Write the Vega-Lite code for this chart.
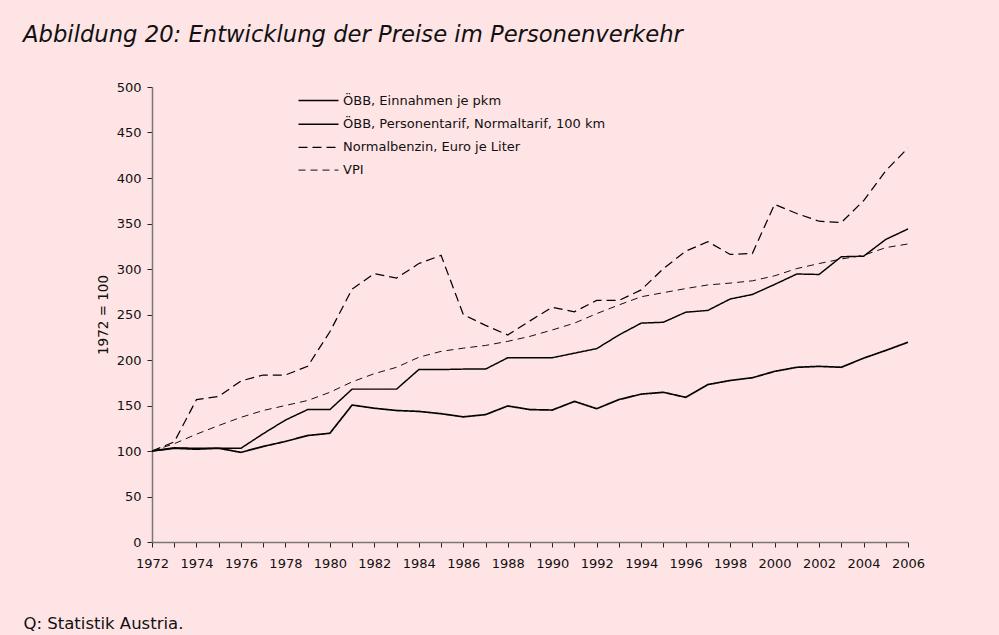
{
  "$schema": "https://vega.github.io/schema/vega-lite/v6.json",
  "autosize": {"type": "none"},
  "width": 756,
  "height": 455,
  "padding": {"left": 152, "top": 87, "right": 91, "bottom": 93},
  "background": "#FFE4E6",
  "config": {
    "view": {"stroke": null},
    "font": "DejaVu Sans",
    "axis": {"labelColor": "#111", "titleColor": "#111", "tickColor": "#222", "domainColor": "#777", "domainWidth": 1.5, "grid": false, "labelFontSize": 13, "titleFontWeight": "normal", "tickSize": 5},
    "legend": {"orient": "none", "legendX": 152, "legendY": -1, "labelFontSize": 13, "labelColor": "#111", "labelLimit": 500, "symbolSize": 711, "symbolType": "M-1.5,0H1.5", "labelOffset": 10, "rowPadding": 1.7}
  },
  "title": {
    "text": "Abbildung 20: Entwicklung der Preise im Personenverkehr",
    "anchor": "start",
    "frame": "group",
    "dx": -129,
    "offset": 34,
    "fontSize": 22.7,
    "font": "DejaVu Sans",
    "fontStyle": "italic",
    "fontWeight": "normal",
    "color": "#111"
  },
  "data": {
    "values": [
      {"Jahr": 1972, "Reihe": "ÖBB, Einnahmen je pkm", "Wert": 100},
      {"Jahr": 1973, "Reihe": "ÖBB, Einnahmen je pkm", "Wert": 103},
      {"Jahr": 1974, "Reihe": "ÖBB, Einnahmen je pkm", "Wert": 102},
      {"Jahr": 1975, "Reihe": "ÖBB, Einnahmen je pkm", "Wert": 103},
      {"Jahr": 1976, "Reihe": "ÖBB, Einnahmen je pkm", "Wert": 98.5},
      {"Jahr": 1977, "Reihe": "ÖBB, Einnahmen je pkm", "Wert": 105},
      {"Jahr": 1978, "Reihe": "ÖBB, Einnahmen je pkm", "Wert": 110.5},
      {"Jahr": 1979, "Reihe": "ÖBB, Einnahmen je pkm", "Wert": 117},
      {"Jahr": 1980, "Reihe": "ÖBB, Einnahmen je pkm", "Wert": 119.5},
      {"Jahr": 1981, "Reihe": "ÖBB, Einnahmen je pkm", "Wert": 150.5},
      {"Jahr": 1982, "Reihe": "ÖBB, Einnahmen je pkm", "Wert": 147},
      {"Jahr": 1983, "Reihe": "ÖBB, Einnahmen je pkm", "Wert": 144.5},
      {"Jahr": 1984, "Reihe": "ÖBB, Einnahmen je pkm", "Wert": 143.5},
      {"Jahr": 1985, "Reihe": "ÖBB, Einnahmen je pkm", "Wert": 141},
      {"Jahr": 1986, "Reihe": "ÖBB, Einnahmen je pkm", "Wert": 137.5},
      {"Jahr": 1987, "Reihe": "ÖBB, Einnahmen je pkm", "Wert": 140},
      {"Jahr": 1988, "Reihe": "ÖBB, Einnahmen je pkm", "Wert": 149.5},
      {"Jahr": 1989, "Reihe": "ÖBB, Einnahmen je pkm", "Wert": 145.5},
      {"Jahr": 1990, "Reihe": "ÖBB, Einnahmen je pkm", "Wert": 145},
      {"Jahr": 1991, "Reihe": "ÖBB, Einnahmen je pkm", "Wert": 154.5},
      {"Jahr": 1992, "Reihe": "ÖBB, Einnahmen je pkm", "Wert": 146.5},
      {"Jahr": 1993, "Reihe": "ÖBB, Einnahmen je pkm", "Wert": 156.5},
      {"Jahr": 1994, "Reihe": "ÖBB, Einnahmen je pkm", "Wert": 162.5},
      {"Jahr": 1995, "Reihe": "ÖBB, Einnahmen je pkm", "Wert": 164.5},
      {"Jahr": 1996, "Reihe": "ÖBB, Einnahmen je pkm", "Wert": 159},
      {"Jahr": 1997, "Reihe": "ÖBB, Einnahmen je pkm", "Wert": 173},
      {"Jahr": 1998, "Reihe": "ÖBB, Einnahmen je pkm", "Wert": 177.5},
      {"Jahr": 1999, "Reihe": "ÖBB, Einnahmen je pkm", "Wert": 180.5},
      {"Jahr": 2000, "Reihe": "ÖBB, Einnahmen je pkm", "Wert": 187.5},
      {"Jahr": 2001, "Reihe": "ÖBB, Einnahmen je pkm", "Wert": 192},
      {"Jahr": 2002, "Reihe": "ÖBB, Einnahmen je pkm", "Wert": 193},
      {"Jahr": 2003, "Reihe": "ÖBB, Einnahmen je pkm", "Wert": 192},
      {"Jahr": 2004, "Reihe": "ÖBB, Einnahmen je pkm", "Wert": 202},
      {"Jahr": 2005, "Reihe": "ÖBB, Einnahmen je pkm", "Wert": 210.5},
      {"Jahr": 2006, "Reihe": "ÖBB, Einnahmen je pkm", "Wert": 219.5},
      {"Jahr": 1972, "Reihe": "ÖBB, Personentarif, Normaltarif, 100 km", "Wert": 100},
      {"Jahr": 1973, "Reihe": "ÖBB, Personentarif, Normaltarif, 100 km", "Wert": 103.5},
      {"Jahr": 1974, "Reihe": "ÖBB, Personentarif, Normaltarif, 100 km", "Wert": 103},
      {"Jahr": 1975, "Reihe": "ÖBB, Personentarif, Normaltarif, 100 km", "Wert": 103},
      {"Jahr": 1976, "Reihe": "ÖBB, Personentarif, Normaltarif, 100 km", "Wert": 103},
      {"Jahr": 1977, "Reihe": "ÖBB, Personentarif, Normaltarif, 100 km", "Wert": 119},
      {"Jahr": 1978, "Reihe": "ÖBB, Personentarif, Normaltarif, 100 km", "Wert": 134},
      {"Jahr": 1979, "Reihe": "ÖBB, Personentarif, Normaltarif, 100 km", "Wert": 145.5},
      {"Jahr": 1980, "Reihe": "ÖBB, Personentarif, Normaltarif, 100 km", "Wert": 145.5},
      {"Jahr": 1981, "Reihe": "ÖBB, Personentarif, Normaltarif, 100 km", "Wert": 168},
      {"Jahr": 1982, "Reihe": "ÖBB, Personentarif, Normaltarif, 100 km", "Wert": 168},
      {"Jahr": 1983, "Reihe": "ÖBB, Personentarif, Normaltarif, 100 km", "Wert": 168},
      {"Jahr": 1984, "Reihe": "ÖBB, Personentarif, Normaltarif, 100 km", "Wert": 189.5},
      {"Jahr": 1985, "Reihe": "ÖBB, Personentarif, Normaltarif, 100 km", "Wert": 189.5},
      {"Jahr": 1986, "Reihe": "ÖBB, Personentarif, Normaltarif, 100 km", "Wert": 190},
      {"Jahr": 1987, "Reihe": "ÖBB, Personentarif, Normaltarif, 100 km", "Wert": 190},
      {"Jahr": 1988, "Reihe": "ÖBB, Personentarif, Normaltarif, 100 km", "Wert": 202.5},
      {"Jahr": 1989, "Reihe": "ÖBB, Personentarif, Normaltarif, 100 km", "Wert": 202.5},
      {"Jahr": 1990, "Reihe": "ÖBB, Personentarif, Normaltarif, 100 km", "Wert": 202.5},
      {"Jahr": 1991, "Reihe": "ÖBB, Personentarif, Normaltarif, 100 km", "Wert": 207.5},
      {"Jahr": 1992, "Reihe": "ÖBB, Personentarif, Normaltarif, 100 km", "Wert": 212.5},
      {"Jahr": 1993, "Reihe": "ÖBB, Personentarif, Normaltarif, 100 km", "Wert": 227.5},
      {"Jahr": 1994, "Reihe": "ÖBB, Personentarif, Normaltarif, 100 km", "Wert": 240.5},
      {"Jahr": 1995, "Reihe": "ÖBB, Personentarif, Normaltarif, 100 km", "Wert": 241.5},
      {"Jahr": 1996, "Reihe": "ÖBB, Personentarif, Normaltarif, 100 km", "Wert": 252.5},
      {"Jahr": 1997, "Reihe": "ÖBB, Personentarif, Normaltarif, 100 km", "Wert": 254.5},
      {"Jahr": 1998, "Reihe": "ÖBB, Personentarif, Normaltarif, 100 km", "Wert": 267},
      {"Jahr": 1999, "Reihe": "ÖBB, Personentarif, Normaltarif, 100 km", "Wert": 272},
      {"Jahr": 2000, "Reihe": "ÖBB, Personentarif, Normaltarif, 100 km", "Wert": 283},
      {"Jahr": 2001, "Reihe": "ÖBB, Personentarif, Normaltarif, 100 km", "Wert": 294.5},
      {"Jahr": 2002, "Reihe": "ÖBB, Personentarif, Normaltarif, 100 km", "Wert": 294},
      {"Jahr": 2003, "Reihe": "ÖBB, Personentarif, Normaltarif, 100 km", "Wert": 313.5},
      {"Jahr": 2004, "Reihe": "ÖBB, Personentarif, Normaltarif, 100 km", "Wert": 314},
      {"Jahr": 2005, "Reihe": "ÖBB, Personentarif, Normaltarif, 100 km", "Wert": 332.5},
      {"Jahr": 2006, "Reihe": "ÖBB, Personentarif, Normaltarif, 100 km", "Wert": 344},
      {"Jahr": 1972, "Reihe": "Normalbenzin, Euro je Liter", "Wert": 100},
      {"Jahr": 1973, "Reihe": "Normalbenzin, Euro je Liter", "Wert": 110},
      {"Jahr": 1974, "Reihe": "Normalbenzin, Euro je Liter", "Wert": 156.5},
      {"Jahr": 1975, "Reihe": "Normalbenzin, Euro je Liter", "Wert": 160},
      {"Jahr": 1976, "Reihe": "Normalbenzin, Euro je Liter", "Wert": 177},
      {"Jahr": 1977, "Reihe": "Normalbenzin, Euro je Liter", "Wert": 183.5},
      {"Jahr": 1978, "Reihe": "Normalbenzin, Euro je Liter", "Wert": 183.5},
      {"Jahr": 1979, "Reihe": "Normalbenzin, Euro je Liter", "Wert": 193},
      {"Jahr": 1980, "Reihe": "Normalbenzin, Euro je Liter", "Wert": 231},
      {"Jahr": 1981, "Reihe": "Normalbenzin, Euro je Liter", "Wert": 278},
      {"Jahr": 1982, "Reihe": "Normalbenzin, Euro je Liter", "Wert": 295},
      {"Jahr": 1983, "Reihe": "Normalbenzin, Euro je Liter", "Wert": 290},
      {"Jahr": 1984, "Reihe": "Normalbenzin, Euro je Liter", "Wert": 306},
      {"Jahr": 1985, "Reihe": "Normalbenzin, Euro je Liter", "Wert": 315},
      {"Jahr": 1986, "Reihe": "Normalbenzin, Euro je Liter", "Wert": 250},
      {"Jahr": 1987, "Reihe": "Normalbenzin, Euro je Liter", "Wert": 238},
      {"Jahr": 1988, "Reihe": "Normalbenzin, Euro je Liter", "Wert": 227.5},
      {"Jahr": 1989, "Reihe": "Normalbenzin, Euro je Liter", "Wert": 243},
      {"Jahr": 1990, "Reihe": "Normalbenzin, Euro je Liter", "Wert": 258},
      {"Jahr": 1991, "Reihe": "Normalbenzin, Euro je Liter", "Wert": 253},
      {"Jahr": 1992, "Reihe": "Normalbenzin, Euro je Liter", "Wert": 265.5},
      {"Jahr": 1993, "Reihe": "Normalbenzin, Euro je Liter", "Wert": 265.5},
      {"Jahr": 1994, "Reihe": "Normalbenzin, Euro je Liter", "Wert": 277},
      {"Jahr": 1995, "Reihe": "Normalbenzin, Euro je Liter", "Wert": 300.5},
      {"Jahr": 1996, "Reihe": "Normalbenzin, Euro je Liter", "Wert": 319.5},
      {"Jahr": 1997, "Reihe": "Normalbenzin, Euro je Liter", "Wert": 330},
      {"Jahr": 1998, "Reihe": "Normalbenzin, Euro je Liter", "Wert": 316},
      {"Jahr": 1999, "Reihe": "Normalbenzin, Euro je Liter", "Wert": 317},
      {"Jahr": 2000, "Reihe": "Normalbenzin, Euro je Liter", "Wert": 371},
      {"Jahr": 2001, "Reihe": "Normalbenzin, Euro je Liter", "Wert": 361},
      {"Jahr": 2002, "Reihe": "Normalbenzin, Euro je Liter", "Wert": 352.5},
      {"Jahr": 2003, "Reihe": "Normalbenzin, Euro je Liter", "Wert": 351},
      {"Jahr": 2004, "Reihe": "Normalbenzin, Euro je Liter", "Wert": 375},
      {"Jahr": 2005, "Reihe": "Normalbenzin, Euro je Liter", "Wert": 408},
      {"Jahr": 2006, "Reihe": "Normalbenzin, Euro je Liter", "Wert": 433},
      {"Jahr": 1972, "Reihe": "VPI", "Wert": 100},
      {"Jahr": 1973, "Reihe": "VPI", "Wert": 108},
      {"Jahr": 1974, "Reihe": "VPI", "Wert": 118.5},
      {"Jahr": 1975, "Reihe": "VPI", "Wert": 128},
      {"Jahr": 1976, "Reihe": "VPI", "Wert": 137},
      {"Jahr": 1977, "Reihe": "VPI", "Wert": 144.5},
      {"Jahr": 1978, "Reihe": "VPI", "Wert": 150},
      {"Jahr": 1979, "Reihe": "VPI", "Wert": 155.5},
      {"Jahr": 1980, "Reihe": "VPI", "Wert": 164.5},
      {"Jahr": 1981, "Reihe": "VPI", "Wert": 176},
      {"Jahr": 1982, "Reihe": "VPI", "Wert": 185},
      {"Jahr": 1983, "Reihe": "VPI", "Wert": 192},
      {"Jahr": 1984, "Reihe": "VPI", "Wert": 203},
      {"Jahr": 1985, "Reihe": "VPI", "Wert": 209.5},
      {"Jahr": 1986, "Reihe": "VPI", "Wert": 213},
      {"Jahr": 1987, "Reihe": "VPI", "Wert": 216},
      {"Jahr": 1988, "Reihe": "VPI", "Wert": 220.5},
      {"Jahr": 1989, "Reihe": "VPI", "Wert": 226},
      {"Jahr": 1990, "Reihe": "VPI", "Wert": 233},
      {"Jahr": 1991, "Reihe": "VPI", "Wert": 240.5},
      {"Jahr": 1992, "Reihe": "VPI", "Wert": 251},
      {"Jahr": 1993, "Reihe": "VPI", "Wert": 260.5},
      {"Jahr": 1994, "Reihe": "VPI", "Wert": 269.5},
      {"Jahr": 1995, "Reihe": "VPI", "Wert": 274},
      {"Jahr": 1996, "Reihe": "VPI", "Wert": 278.5},
      {"Jahr": 1997, "Reihe": "VPI", "Wert": 282.5},
      {"Jahr": 1998, "Reihe": "VPI", "Wert": 284.5},
      {"Jahr": 1999, "Reihe": "VPI", "Wert": 287},
      {"Jahr": 2000, "Reihe": "VPI", "Wert": 292.5},
      {"Jahr": 2001, "Reihe": "VPI", "Wert": 300.5},
      {"Jahr": 2002, "Reihe": "VPI", "Wert": 306},
      {"Jahr": 2003, "Reihe": "VPI", "Wert": 311},
      {"Jahr": 2004, "Reihe": "VPI", "Wert": 315},
      {"Jahr": 2005, "Reihe": "VPI", "Wert": 323.5},
      {"Jahr": 2006, "Reihe": "VPI", "Wert": 327.5}
    ]
  },
  "mark": {"type": "line", "strokeJoin": "miter"},
  "encoding": {
    "x": {
      "field": "Jahr",
      "type": "quantitative",
      "scale": {"domain": [1972, 2006], "nice": false, "zero": false},
      "axis": {
        "values": [1972, 1973, 1974, 1975, 1976, 1977, 1978, 1979, 1980, 1981, 1982, 1983, 1984, 1985, 1986, 1987, 1988, 1989, 1990, 1991, 1992, 1993, 1994, 1995, 1996, 1997, 1998, 1999, 2000, 2001, 2002, 2003, 2004, 2005, 2006],
        "format": "d",
        "labelExpr": "datum.value % 2 == 0 ? datum.label : ''",
        "labelFlush": false,
        "labelPadding": 10,
        "labelOverlap": false,
        "title": "Q: Statistik Austria.",
        "titleAnchor": "start",
        "titleAlign": "left",
        "titleBaseline": "alphabetic",
        "titleX": -129,
        "titleY": 86,
        "titleFontSize": 16.5
      }
    },
    "y": {
      "field": "Wert",
      "type": "quantitative",
      "scale": {"domain": [0, 500], "nice": false},
      "axis": {
        "values": [0, 50, 100, 150, 200, 250, 300, 350, 400, 450, 500],
        "title": "1972 = 100",
        "titleFontSize": 13.5,
        "labelPadding": 6,
        "titlePadding": 6
      }
    },
    "color": {
      "field": "Reihe",
      "type": "nominal",
      "scale": {"domain": ["ÖBB, Einnahmen je pkm", "ÖBB, Personentarif, Normaltarif, 100 km", "Normalbenzin, Euro je Liter", "VPI"], "range": ["#000000", "#000000", "#000000", "#111111"]},
      "legend": {"title": null}
    },
    "strokeDash": {
      "field": "Reihe",
      "type": "nominal",
      "scale": {"domain": ["ÖBB, Einnahmen je pkm", "ÖBB, Personentarif, Normaltarif, 100 km", "Normalbenzin, Euro je Liter", "VPI"], "range": [[1, 0], [1, 0], [9, 5], [7, 5]]},
      "legend": {"title": null}
    },
    "strokeWidth": {
      "field": "Reihe",
      "type": "nominal",
      "scale": {"domain": ["ÖBB, Einnahmen je pkm", "ÖBB, Personentarif, Normaltarif, 100 km", "Normalbenzin, Euro je Liter", "VPI"], "range": [1.7, 1, 2, 1]},
      "legend": {"title": null}
    }
  }
}
